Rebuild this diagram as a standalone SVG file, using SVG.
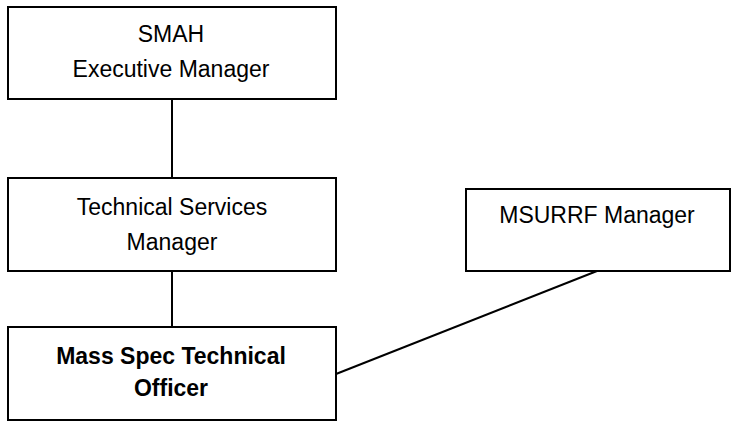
<svg xmlns="http://www.w3.org/2000/svg" width="734" height="422" viewBox="0 0 734 422">
<style>
.box{fill:#fff;stroke:#000;stroke-width:2}
.t{font-family:"Liberation Sans",Arial,sans-serif;font-size:23px;fill:#000;text-anchor:middle}
.b{font-weight:bold;font-size:23px}
.c{stroke:#000;stroke-width:2;fill:none}
</style>
<rect width="734" height="422" fill="#fff"/>
<g id="connectors">
<line class="c" x1="172" y1="99" x2="172" y2="178"/>
<line class="c" x1="172" y1="271" x2="172" y2="327"/>
<line class="c" x1="336" y1="374" x2="597" y2="271"/>
</g>
<g id="smah">
<rect class="box" x="8" y="7" width="328" height="92"/>
<text class="t" x="171" y="42">SMAH</text>
<text class="t" x="171" y="77">Executive Manager</text>
</g>
<g id="tsm">
<rect class="box" x="8" y="178" width="328" height="93"/>
<text class="t" x="172" y="215">Technical Services</text>
<text class="t" x="172" y="250">Manager</text>
</g>
<g id="mstof">
<rect class="box" x="8" y="327" width="328" height="93"/>
<text class="t b" x="171" y="364">Mass Spec Technical</text>
<text class="t b" x="171" y="396">Officer</text>
</g>
<g id="msurrf">
<rect class="box" x="466" y="189" width="264" height="82"/>
<text class="t" x="597" y="223">MSURRF Manager</text>
</g>
</svg>
